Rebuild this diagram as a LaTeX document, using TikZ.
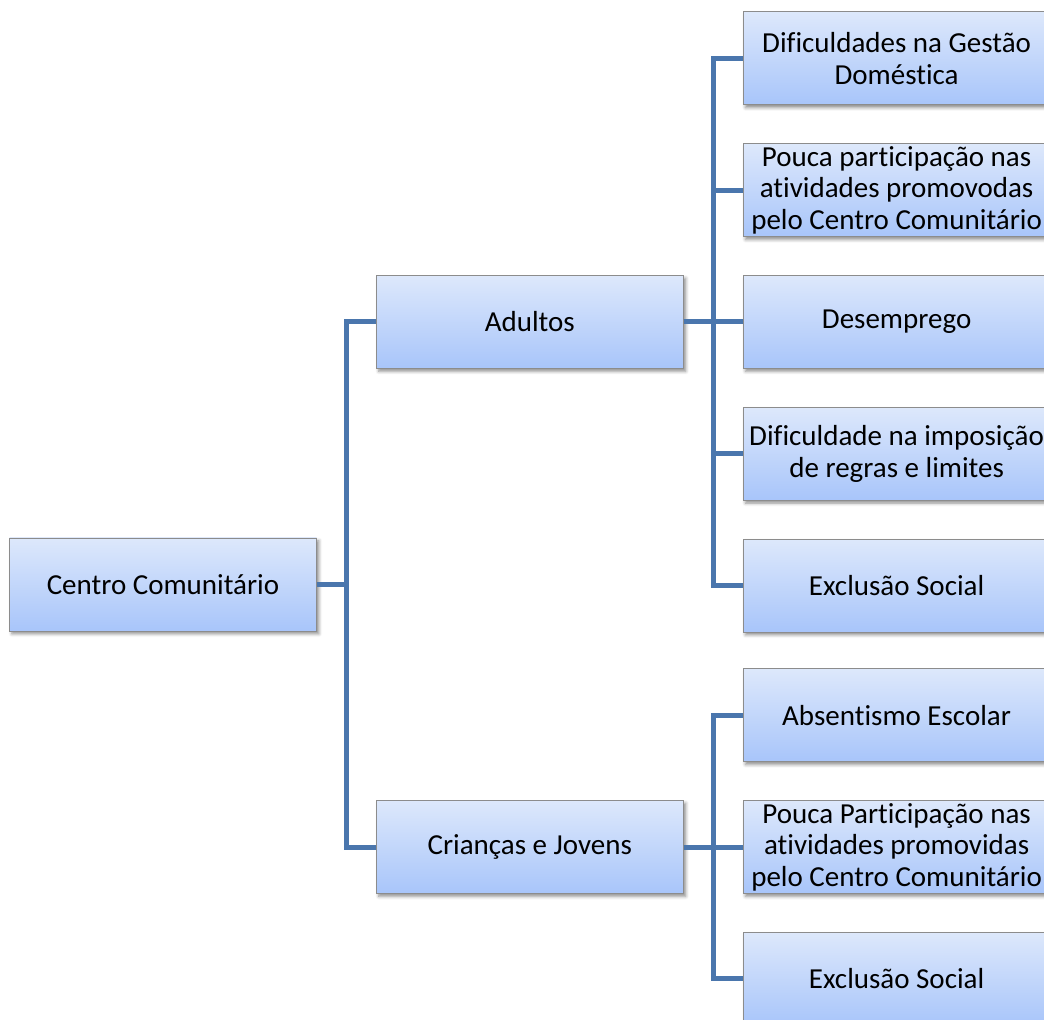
\documentclass[tikz,border=0pt]{standalone}
\usepackage{fontspec}
\setmainfont[Ligatures={NoCommon,NoContextual}]{Carlito}
\usepackage{tikz}
\usetikzlibrary{positioning,shadows.blur}

\definecolor{boxtop}{HTML}{DDE8FB}
\definecolor{boxbottom}{HTML}{A8C5FA}
\definecolor{boxline}{HTML}{8C8C8C}
\definecolor{linkblue}{HTML}{4A76AD}

\begin{document}
\begin{tikzpicture}[x=0.5pt,y=0.5pt]
\tikzstyle{box}=[rectangle, draw=boxline, line width=0.4pt, top color=boxtop, bottom color=boxbottom,
  minimum width=153.5pt, minimum height=46.5pt, inner sep=1pt, align=center,
  font=\fontsize{14.5}{15.8}\selectfont, blur shadow={shadow xshift=1.2pt, shadow yshift=-1.4pt, shadow blur radius=1.6pt, shadow opacity=45}]
\tikzstyle{connect}=[line width=2.5pt, draw=linkblue]
\useasboundingbox (0,0) rectangle (1044,-1020);

  \node[box] (centro) at (163,-584.5) {Centro Comunitário};

  \node[box] (adultos) [right=29.5pt of centro, yshift=131.25pt] {Adultos};
  \node[box] (criancas) [right=29.5pt of centro, yshift=-131.25pt] {Crianças e Jovens};

  % adultos
  \node[box] (a3) [right=29.5pt of adultos] {Desemprego};
  \node[box] (a2) [above=19pt of a3] {Pouca participação nas\\atividades promovodas\\pelo Centro Comunitário};
  \node[box] (a1) [above=19pt of a2] {Dificuldades na Gestão\\Doméstica};
  \node[box] (a4) [below=19pt of a3] {Dificuldade na imposição\\de regras e limites};
  \node[box] (a5) [below=19pt of a4] {Exclusão Social};

  % criancas e jovens
  \node[box] (c2) [right=29.5pt of criancas] {Pouca Participação nas\\atividades promovidas\\pelo Centro Comunitário};
  \node[box] (c1) [above=19pt of c2] {Absentismo Escolar};
  \node[box] (c3) [below=19pt of c2] {Exclusão Social};

  \draw[connect] (centro.east) -- ++(15pt,0) |- (adultos.west);
  \draw[connect] (centro.east) -- ++(15pt,0) |- (criancas.west);

  \foreach \n in {a1,a2,a3,a4,a5}
    \draw[connect] (adultos.east) -- ++(15pt,0) |- (\n.west);
  \foreach \n in {c1,c2,c3}
    \draw[connect] (criancas.east) -- ++(15pt,0) |- (\n.west);
\end{tikzpicture}
\end{document}
